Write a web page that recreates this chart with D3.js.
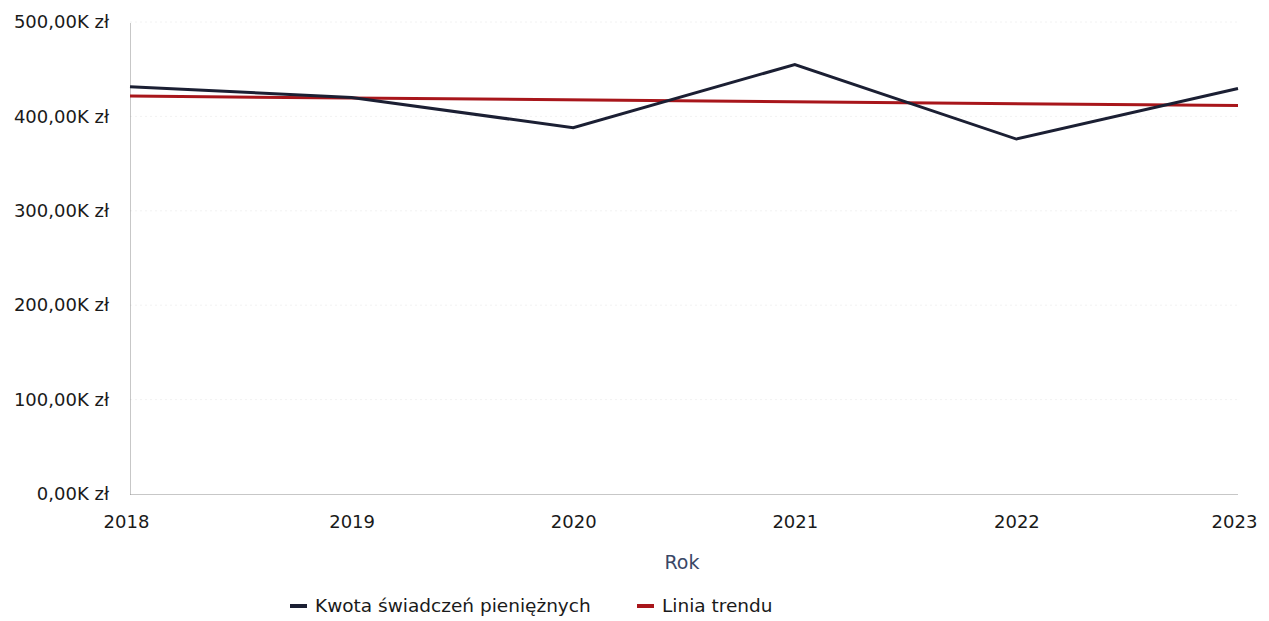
<!DOCTYPE html>
<html><head><meta charset="utf-8">
<script src="https://cdn.jsdelivr.net/npm/d3@7"></script>
<style>body{margin:0;background:#fff;} text{font-family:"DejaVu Sans",sans-serif;}</style>
</head><body>
<svg id="c" width="1269" height="621"></svg>
<script>
const years = [2018, 2019, 2020, 2021, 2022, 2023];
const values = [431.5, 420, 388, 455, 376, 429.5]; // thousands zł
const trendYears = [2018, 2023];
const trendValues = [421.5, 411.5];
const yTicks = [0, 100, 200, 300, 400, 500];
const seriesNames = ["Kwota świadczeń pieniężnych", "Linia trendu"];
const seriesColors = ["#1b1f33", "#a8161b"];

const FONT = '"DejaVu Sans",sans-serif';
const svg = d3.select("#c");
const x = d3.scaleLinear().domain([2018, 2023]).range([130, 1238]);
const y = d3.scaleLinear().domain([0, 500]).range([494, 22]);
const fmt = v => v.toFixed(2).replace(".", ",") + "K zł";

// gridlines (very faint)
svg.append("g").selectAll("line").data(yTicks.slice(1)).join("line")
  .attr("x1", 130).attr("x2", 1238).attr("y1", d => y(d)).attr("y2", d => y(d))
  .attr("stroke", "#f2f2f2").attr("stroke-dasharray", "2,3").attr("stroke-width", 1);

// y axis
const ya = svg.append("g").attr("transform", "translate(130,0)")
  .call(d3.axisLeft(y).tickValues(yTicks).tickFormat(fmt).tickSize(0).tickPadding(21));
ya.select(".domain").attr("stroke", "#8f8f8f").attr("stroke-dasharray", "1,1");
ya.selectAll("text").attr("font-size", 18).attr("fill", "#1a1a1a").style("font-family", FONT);

// x axis
const xa = svg.append("g").attr("transform", "translate(0,494)")
  .call(d3.axisBottom(x).tickValues(years).tickFormat(d3.format("d")).tickSize(0).tickPadding(34));
xa.select(".domain").attr("stroke", "#8f8f8f").attr("stroke-dasharray", "1,1");
xa.selectAll("text").attr("font-size", 18).attr("fill", "#1a1a1a").attr("dy", 0)
  .attr("dx", (d, i) => i === 0 ? -4 : (i === years.length - 1 ? -4 : 0))
  .style("font-family", FONT);

svg.append("text").attr("x", 682).attr("y", 569).attr("text-anchor", "middle")
  .attr("font-size", 19).attr("fill", "#3a4766").text("Rok");

// lines
const line = d3.line().x(d => x(d[0])).y(d => y(d[1]));
svg.append("path").datum(trendYears.map((t, i) => [t, trendValues[i]]))
  .attr("d", line).attr("fill", "none").attr("stroke", seriesColors[1]).attr("stroke-width", 3);
svg.append("path").datum(years.map((t, i) => [t, values[i]]))
  .attr("d", line).attr("fill", "none").attr("stroke", seriesColors[0]).attr("stroke-width", 3)
  .attr("stroke-linejoin", "miter");

// legend
const legX = [290, 637];
seriesNames.forEach((n, i) => {
  svg.append("rect").attr("x", legX[i]).attr("y", 604).attr("width", 17).attr("height", 4).attr("fill", seriesColors[i]);
  svg.append("text").attr("x", legX[i] + 25).attr("y", 612).attr("font-size", 18.5).attr("fill", "#1a1a1a").text(n);
});
</script>
</body></html>
